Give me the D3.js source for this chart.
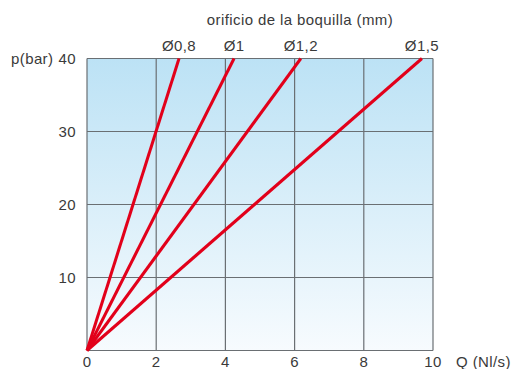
<!DOCTYPE html>
<html><head><meta charset="utf-8">
<script src="https://cdn.jsdelivr.net/npm/d3@7"></script>
<style>body{margin:0;background:#fff}text{font-family:"Liberation Sans",Arial,sans-serif;fill:#3a3a3a;font-size:15px;letter-spacing:0.4px}</style>
</head><body><svg id="c" width="511" height="369"></svg>
<script>
const nozzles = ["Ø0,8", "Ø1", "Ø1,2", "Ø1,5"];
const flowAt40 = [2.66, 4.25, 6.18, 9.68];
const xTicks = [0, 2, 4, 6, 8, 10];
const yTicks = [10, 20, 30, 40];
const svg = d3.select("#c");
const x = d3.scaleLinear().domain([0, 10]).range([87, 433]);
const y = d3.scaleLinear().domain([0, 40]).range([350.5, 58.5]);
const defs = svg.append("defs");
const g = defs.append("linearGradient").attr("id","bg").attr("x1",0).attr("y1",0).attr("x2",0).attr("y2",1);
g.append("stop").attr("offset","0%").attr("stop-color","#bce2f5");
g.append("stop").attr("offset","100%").attr("stop-color","#f7fbfe");
svg.append("rect").attr("x",x(0)).attr("y",y(40)).attr("width",x(10)-x(0)).attr("height",y(0)-y(40)).attr("fill","url(#bg)");
svg.selectAll(".vg").data(xTicks).join("line").attr("x1",d=>x(d)).attr("x2",d=>x(d)).attr("y1",y(0)).attr("y2",y(40)).attr("stroke","#6a6f73").attr("stroke-width",1.2);
svg.selectAll(".hg").data([0].concat(yTicks)).join("line").attr("x1",x(0)).attr("x2",x(10)).attr("y1",d=>y(d)).attr("y2",d=>y(d)).attr("stroke","#6a6f73").attr("stroke-width",1.2);
const line = d3.line().x(d=>x(d[0])).y(d=>y(d[1]));
nozzles.forEach((n,i)=>{
  svg.append("path").attr("d",line([[0,0],[flowAt40[i],40]])).attr("fill","none").attr("stroke","#e2001a").attr("stroke-width",3);
  svg.append("text").attr("x",x(flowAt40[i])).attr("y",51).attr("text-anchor","middle").text(n);
});
svg.selectAll(".xt").data(xTicks).join("text").attr("x",d=>x(d)).attr("y",367).attr("text-anchor","middle").text(d=>d);
svg.selectAll(".yt").data(yTicks).join("text").attr("x",76).attr("y",d=>y(d)+5).attr("text-anchor","end").text(d=>d);
svg.append("text").attr("x",11).attr("y",y(40)+5).text("p(bar)");
svg.append("text").attr("x",456).attr("y",367).text("Q (Nl/s)");
svg.append("text").attr("x",300).attr("y",25).attr("text-anchor","middle").text("orificio de la boquilla (mm)");
</script></body></html>
